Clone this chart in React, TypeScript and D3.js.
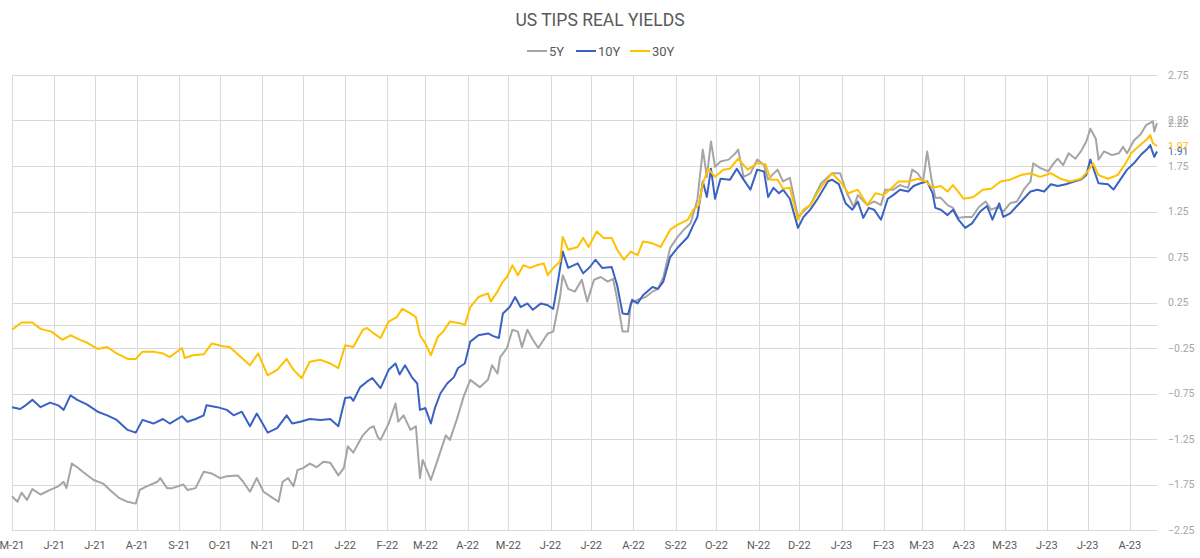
import React, { useRef, useEffect } from "react";
import * as d3 from "d3";

// day offset from 1 May 2021, value (%)
const fiveYear: [number, number][] = [
  [0,-1.88],[4,-1.94],[7,-1.84],[11,-1.92],[15,-1.80],[21,-1.86],[28,-1.81],[34,-1.77],[38,-1.72],[40,-1.79],
  [44,-1.52],[48,-1.56],[52,-1.61],[60,-1.70],[67,-1.74],[72,-1.81],[79,-1.90],[85,-1.94],[91,-1.96],[94,-1.81],
  [99,-1.77],[107,-1.72],[109,-1.68],[114,-1.79],[118,-1.79],[126,-1.75],[129,-1.81],[135,-1.79],[141,-1.61],[147,-1.63],
  [153,-1.68],[158,-1.66],[166,-1.65],[170,-1.72],[175,-1.83],[180,-1.68],[185,-1.83],[190,-1.88],[196,-1.94],[199,-1.72],
  [203,-1.68],[207,-1.77],[210,-1.59],[214,-1.57],[219,-1.52],[224,-1.56],[229,-1.50],[234,-1.51],[240,-1.65],[244,-1.57],
  [247,-1.33],[251,-1.40],[256,-1.26],[258,-1.21],[263,-1.13],[266,-1.11],[269,-1.23],[271,-1.26],[277,-1.08],[282,-0.86],
  [284,-1.06],[288,-0.99],[293,-1.15],[297,-1.11],[300,-1.68],[302,-1.48],[308,-1.70],[313,-1.48],[319,-1.21],[322,-1.26],
  [327,-1.04],[332,-0.79],[337,-0.60],[344,-0.68],[350,-0.60],[353,-0.44],[357,-0.53],[359,-0.35],[364,-0.25],[368,-0.05],
  [372,-0.07],[375,-0.24],[379,-0.05],[383,-0.16],[387,-0.25],[394,-0.09],[398,-0.07],[403,0.31],[405,0.55],[409,0.40],
  [414,0.37],[419,0.50],[423,0.26],[428,0.50],[433,0.53],[438,0.48],[442,0.51],[445,0.29],[449,-0.07],[453,-0.07],
  [455,0.24],[460,0.28],[466,0.31],[471,0.37],[475,0.40],[479,0.53],[484,0.85],[489,0.96],[494,1.05],[499,1.12],
  [504,1.38],[508,1.93],[511,1.63],[514,2.02],[517,1.74],[521,1.80],[527,1.82],[532,1.89],[534,1.93],[538,1.63],
  [543,1.67],[548,1.82],[553,1.76],[556,1.60],[559,1.65],[563,1.71],[567,1.58],[572,1.62],[578,1.19],[582,1.25],
  [587,1.32],[595,1.56],[600,1.63],[603,1.67],[609,1.67],[614,1.45],[619,1.30],[622,1.43],[629,1.32],[634,1.36],
  [639,1.32],[642,1.49],[648,1.49],[653,1.54],[659,1.51],[662,1.71],[666,1.67],[670,1.58],[673,1.91],[676,1.62],
  [679,1.40],[683,1.40],[688,1.32],[692,1.29],[696,1.18],[701,1.19],[706,1.19],[711,1.30],[716,1.36],[720,1.27],
  [725,1.30],[729,1.25],[734,1.34],[739,1.36],[744,1.49],[749,1.58],[751,1.78],[756,1.73],[762,1.69],[765,1.76],
  [769,1.83],[773,1.76],[777,1.89],[782,1.83],[786,1.91],[790,2.02],[793,2.16],[797,2.05],[799,1.82],[803,1.91],
  [809,1.87],[814,1.89],[817,1.96],[820,1.89],[825,2.03],[830,2.10],[834,2.20],[839,2.24],[840,2.13],[842,2.22],
];

const tenYear: [number, number][] = [
  [0,-0.90],[6,-0.92],[10,-0.88],[15,-0.82],[21,-0.90],[28,-0.85],[34,-0.88],[38,-0.93],[43,-0.77],[48,-0.82],
  [55,-0.87],[63,-0.95],[70,-0.99],[77,-1.04],[85,-1.15],[91,-1.18],[96,-1.04],[104,-1.08],[111,-1.03],[116,-1.08],
  [125,-1.00],[129,-1.06],[135,-1.03],[141,-0.99],[143,-0.88],[151,-0.90],[158,-0.93],[163,-0.99],[169,-0.95],[175,-1.11],
  [180,-0.97],[185,-1.10],[188,-1.18],[195,-1.13],[202,-0.99],[206,-1.08],[212,-1.06],[219,-1.03],[227,-1.04],[234,-1.03],
  [240,-1.11],[245,-0.80],[249,-0.79],[251,-0.83],[256,-0.68],[261,-0.62],[265,-0.58],[271,-0.69],[277,-0.49],[282,-0.42],
  [285,-0.54],[289,-0.44],[294,-0.57],[298,-0.64],[300,-0.93],[304,-0.91],[308,-1.08],[311,-0.91],[315,-0.75],[320,-0.64],
  [325,-0.57],[328,-0.47],[333,-0.42],[337,-0.18],[343,-0.11],[350,-0.09],[354,-0.12],[358,-0.14],[361,0.13],[366,0.20],
  [370,0.31],[374,0.20],[379,0.24],[383,0.17],[389,0.24],[394,0.22],[398,0.18],[402,0.53],[405,0.81],[409,0.63],
  [416,0.68],[420,0.57],[425,0.64],[429,0.72],[434,0.63],[441,0.64],[445,0.44],[449,0.13],[453,0.12],[456,0.28],
  [460,0.24],[464,0.33],[471,0.42],[475,0.40],[479,0.48],[484,0.75],[490,0.86],[497,0.97],[501,1.10],[504,1.19],
  [508,1.58],[511,1.41],[514,1.72],[517,1.39],[521,1.61],[528,1.60],[533,1.72],[538,1.60],[543,1.49],[548,1.71],
  [553,1.69],[556,1.41],[560,1.51],[564,1.45],[567,1.49],[572,1.39],[578,1.07],[582,1.19],[587,1.27],[592,1.38],
  [600,1.58],[603,1.60],[608,1.55],[613,1.34],[618,1.27],[622,1.36],[626,1.18],[630,1.29],[634,1.27],[639,1.16],
  [644,1.39],[648,1.43],[653,1.49],[659,1.47],[663,1.53],[668,1.56],[673,1.58],[677,1.45],[679,1.29],[683,1.27],
  [688,1.21],[692,1.27],[696,1.16],[701,1.07],[706,1.12],[712,1.25],[717,1.31],[721,1.16],[726,1.34],[729,1.19],
  [734,1.23],[739,1.31],[744,1.39],[749,1.47],[754,1.49],[759,1.47],[764,1.55],[769,1.53],[775,1.55],[781,1.58],
  [786,1.60],[790,1.65],[793,1.82],[799,1.56],[806,1.55],[810,1.49],[815,1.60],[820,1.71],[825,1.78],[830,1.87],
  [835,1.94],[837,1.98],[840,1.85],[842,1.91],
];

const thirtyYear: [number, number][] = [
  [0,-0.05],[7,0.03],[15,0.03],[21,-0.04],[29,-0.07],[37,-0.16],[43,-0.11],[50,-0.16],[55,-0.19],[63,-0.26],
  [70,-0.24],[77,-0.31],[85,-0.37],[91,-0.37],[96,-0.29],[104,-0.29],[111,-0.31],[116,-0.35],[125,-0.25],[127,-0.36],
  [133,-0.33],[141,-0.32],[147,-0.20],[155,-0.23],[160,-0.24],[166,-0.32],[175,-0.44],[181,-0.31],[188,-0.55],[195,-0.49],
  [202,-0.37],[207,-0.49],[213,-0.58],[219,-0.40],[227,-0.38],[234,-0.42],[240,-0.47],[245,-0.22],[251,-0.24],[258,-0.05],
  [261,-0.03],[266,-0.09],[271,-0.14],[277,0.04],[283,0.09],[287,0.18],[293,0.13],[297,0.09],[300,-0.11],[304,-0.20],
  [308,-0.33],[313,-0.13],[317,-0.07],[322,0.04],[330,0.02],[333,0.00],[337,0.20],[343,0.31],[350,0.35],[352,0.26],
  [357,0.37],[361,0.48],[364,0.53],[368,0.66],[372,0.55],[376,0.66],[381,0.63],[386,0.66],[391,0.68],[394,0.55],
  [398,0.63],[403,0.70],[405,0.97],[409,0.83],[416,0.86],[420,0.96],[424,0.86],[430,1.03],[435,0.96],[441,0.96],
  [445,0.83],[450,0.72],[455,0.81],[460,0.77],[464,0.92],[471,0.90],[477,0.86],[484,1.05],[489,1.10],[497,1.16],
  [501,1.27],[505,1.32],[508,1.56],[512,1.72],[517,1.63],[523,1.71],[528,1.72],[534,1.83],[541,1.71],[548,1.78],
  [554,1.77],[558,1.60],[563,1.60],[567,1.50],[572,1.51],[578,1.16],[582,1.27],[587,1.32],[595,1.52],[603,1.67],
  [609,1.58],[615,1.45],[622,1.49],[629,1.32],[635,1.45],[641,1.43],[647,1.51],[652,1.58],[659,1.58],[666,1.61],
  [672,1.58],[677,1.51],[683,1.53],[688,1.47],[692,1.54],[700,1.39],[707,1.41],[714,1.49],[720,1.50],[727,1.58],
  [734,1.60],[742,1.65],[749,1.67],[756,1.63],[764,1.67],[771,1.61],[778,1.58],[786,1.61],[791,1.69],[795,1.78],
  [799,1.65],[806,1.61],[813,1.65],[819,1.78],[823,1.89],[828,1.96],[835,2.05],[837,2.09],[839,2.00],[842,1.97],
];

const seriesNames = ["5Y", "10Y", "30Y"];
const seriesColors = ["#a5a5a5", "#3a62c2", "#ffc000"];
const yTicks = [2.75, 2.25, 1.75, 1.25, 0.75, 0.25, -0.25, -0.75, -1.25, -1.75, -2.25];

const START = new Date(2021, 4, 1);
const LAST_DAY = 842;

const App = () => {
  const svgRef = useRef<SVGSVGElement>(null);

  useEffect(() => {
    const width = 1200;
    const height = 558;
    const left = 12;
    const right = 1157;
    const top = 75;
    const bottom = 530;
    const font = "Roboto, 'DejaVu Sans', sans-serif";

    const svg = d3.select(svgRef.current);
    svg.selectAll("*").remove();
    svg.attr("width", width).attr("height", height).style("font-family", font);

    const endDate = d3.timeDay.offset(START, LAST_DAY);
    const x = d3.scaleTime().domain([START, endDate]).range([left, right]);
    const y = d3.scaleLinear().domain([-2.25, 2.75]).range([bottom, top]);

    const grid = svg.append("g").attr("stroke", "#d9d9d9").attr("stroke-width", 1);

    // horizontal gridlines + zero line
    grid
      .selectAll("line.h")
      .data([...yTicks, 0])
      .join("line")
      .attr("x1", left)
      .attr("x2", right)
      .attr("y1", (d) => Math.round(y(d)) + 0.5)
      .attr("y2", (d) => Math.round(y(d)) + 0.5);

    // month gridlines
    const months = d3.timeMonth.range(START, d3.timeDay.offset(endDate, 1));
    grid
      .selectAll("line.v")
      .data(months)
      .join("line")
      .attr("x1", (d) => Math.round(x(d)) + 0.5)
      .attr("x2", (d) => Math.round(x(d)) + 0.5)
      .attr("y1", top)
      .attr("y2", bottom);

    // right axis labels
    svg
      .append("g")
      .selectAll("text")
      .data(yTicks)
      .join("text")
      .attr("x", 1168)
      .attr("y", (d) => y(d))
      .attr("dy", "0.35em")
      .attr("font-size", 10.5)
      .attr("fill", "#a6a6a6")
      .text((d) => d3.format(".2f")(d));

    // bottom month labels
    const fmtMonth = d3.timeFormat("%b");
    const fmtYear = d3.timeFormat("%y");
    svg
      .append("g")
      .selectAll("text")
      .data(months)
      .join("text")
      .attr("x", (d) => x(d))
      .attr("y", 549)
      .attr("text-anchor", "middle")
      .attr("font-size", 11)
      .attr("fill", "#595959")
      .text((d) => `${fmtMonth(d)[0]}-${fmtYear(d)}`);

    // lines
    const series = [fiveYear, tenYear, thirtyYear];
    const line = d3
      .line<[number, number]>()
      .x((d) => x(d3.timeDay.offset(START, d[0])))
      .y((d) => y(d[1]));

    series.forEach((s, i) => {
      svg
        .append("path")
        .datum(s)
        .attr("fill", "none")
        .attr("stroke", seriesColors[i])
        .attr("stroke-width", 2)
        .attr("stroke-linejoin", "round")
        .attr("d", line);
    });

    // end-of-line labels
    series.forEach((s, i) => {
      const last = s[s.length - 1];
      svg
        .append("text")
        .attr("x", 1168)
        .attr("y", y(last[1]))
        .attr("dy", "0.35em")
        .attr("font-size", 10.5)
        .attr("fill", seriesColors[i])
        .text(d3.format(".2f")(last[1]));
    });

    // title
    svg
      .append("text")
      .attr("x", 600)
      .attr("y", 26)
      .attr("text-anchor", "middle")
      .attr("font-size", 17.5)
      .attr("fill", "#595959")
      .text("US TIPS REAL YIELDS");

    // legend
    const legendX = [527, 576, 630];
    const legend = svg.append("g");
    seriesNames.forEach((name, i) => {
      const g = legend.append("g").attr("transform", `translate(${legendX[i]},51)`);
      g.append("line")
        .attr("x1", 0)
        .attr("x2", 20)
        .attr("y1", 0)
        .attr("y2", 0)
        .attr("stroke", seriesColors[i])
        .attr("stroke-width", 2);
      g.append("text")
        .attr("x", 22)
        .attr("y", 0)
        .attr("dy", "0.35em")
        .attr("font-size", 13)
        .attr("fill", "#595959")
        .text(name);
    });
  }, []);

  return (
    <div style={{ position: "absolute", left: 0, top: 0 }}>
      <svg ref={svgRef}></svg>
    </div>
  );
};

export default App;
